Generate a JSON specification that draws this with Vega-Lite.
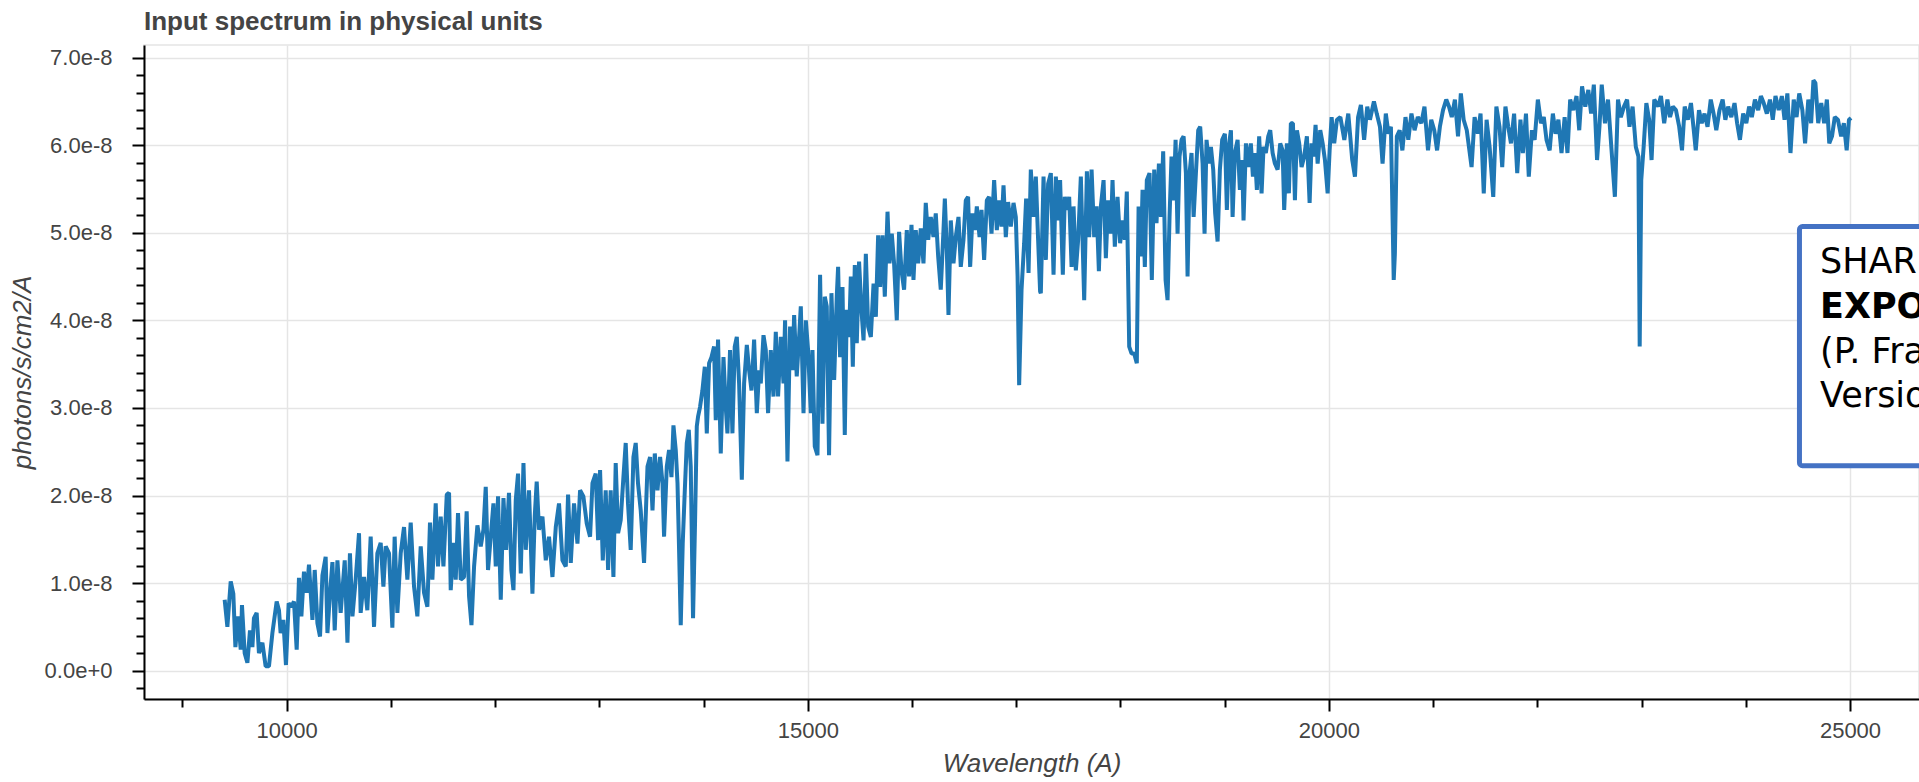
{
"$schema": "https://vega.github.io/schema/vega-lite/v6.json",
"width": 1775,
"height": 654,
"autosize": {"type": "none"},
"padding": {"left": 144, "top": 45, "right": 0, "bottom": 83},
"background": "white",
"title": {"text": "Input spectrum in physical units", "anchor": "start", "frame": "group", "font": "Liberation Sans", "fontSize": 26, "fontWeight": "bold", "color": "#444444", "baseline": "alphabetic", "offset": -11},
"config": {"view": {"stroke": "#e5e5e5", "strokeWidth": 1.5}},
"datasets": {
"spectrum": [
{"w":9405,"f":0.81e-8},{"w":9431,"f":0.50e-8},{"w":9463,"f":1.02e-8},{"w":9488,"f":0.88e-8},{"w":9508,"f":0.27e-8},{"w":9533,"f":0.62e-8},{"w":9559,"f":0.24e-8},{"w":9571,"f":0.75e-8},{"w":9597,"f":0.20e-8},{"w":9623,"f":0.09e-8},{"w":9648,"f":0.46e-8},{"w":9671,"f":0.27e-8},{"w":9686,"f":0.60e-8},{"w":9712,"f":0.66e-8},{"w":9734,"f":0.20e-8},{"w":9767,"f":0.32e-8},{"w":9798,"f":0.05e-8},{"w":9830,"f":0.05e-8},{"w":9863,"f":0.43e-8},{"w":9904,"f":0.79e-8},{"w":9926,"f":0.69e-8},{"w":9942,"f":0.43e-8},{"w":9968,"f":0.58e-8},{"w":9993,"f":0.065e-8},
{"w":10019,"f":0.77e-8},{"w":10045,"f":0.73e-8},{"w":10070,"f":0.79e-8},{"w":10096,"f":0.24e-8},{"w":10118,"f":1.06e-8},{"w":10141,"f":0.62e-8},{"w":10166,"f":1.13e-8},{"w":10192,"f":0.89e-8},{"w":10214,"f":1.21e-8},{"w":10247,"f":0.58e-8},{"w":10269,"f":1.15e-8},{"w":10295,"f":0.54e-8},{"w":10320,"f":0.39e-8},{"w":10343,"f":1.09e-8},{"w":10374,"f":1.30e-8},{"w":10391,"f":0.43e-8},{"w":10416,"f":0.89e-8},{"w":10439,"f":1.24e-8},{"w":10461,"f":0.46e-8},{"w":10487,"f":1.26e-8},{"w":10518,"f":0.66e-8},{"w":10557,"f":1.26e-8},{"w":10583,"f":0.32e-8},{"w":10607,"f":1.34e-8},{"w":10631,"f":0.62e-8},{"w":10662,"f":1.04e-8},{"w":10694,"f":1.57e-8},{"w":10710,"f":0.66e-8},{"w":10742,"f":1.07e-8},{"w":10774,"f":0.69e-8},{"w":10806,"f":1.53e-8},{"w":10838,"f":0.50e-8},{"w":10870,"f":1.34e-8},{"w":10902,"f":1.46e-8},{"w":10928,"f":0.96e-8},{"w":10950,"f":1.42e-8},{"w":10982,"f":1.34e-8},
{"w":11014,"f":0.49e-8},{"w":11036,"f":1.53e-8},{"w":11062,"f":0.66e-8},{"w":11094,"f":1.34e-8},{"w":11126,"f":1.64e-8},{"w":11158,"f":1.04e-8},{"w":11190,"f":1.69e-8},{"w":11222,"f":0.96e-8},{"w":11254,"f":0.62e-8},{"w":11286,"f":1.42e-8},{"w":11318,"f":0.89e-8},{"w":11350,"f":0.73e-8},{"w":11375,"f":1.69e-8},{"w":11398,"f":1.04e-8},{"w":11430,"f":1.91e-8},{"w":11452,"f":1.19e-8},{"w":11478,"f":1.76e-8},{"w":11504,"f":1.19e-8},{"w":11536,"f":2.01e-8},{"w":11558,"f":2.03e-8},{"w":11574,"f":0.92e-8},{"w":11600,"f":1.46e-8},{"w":11622,"f":1.04e-8},{"w":11644,"f":1.80e-8},{"w":11670,"f":1.04e-8},{"w":11702,"f":1.07e-8},{"w":11727,"f":1.82e-8},{"w":11750,"f":0.85e-8},{"w":11773,"f":0.52e-8},{"w":11798,"f":1.19e-8},{"w":11830,"f":1.66e-8},{"w":11862,"f":1.42e-8},
{"w":11888,"f":1.61e-8},{"w":11910,"f":2.10e-8},{"w":11932,"f":1.15e-8},{"w":11958,"f":1.53e-8},{"w":11984,"f":1.91e-8},{"w":12006,"f":1.19e-8},{"w":12028,"f":1.99e-8},{"w":12054,"f":0.81e-8},{"w":12080,"f":1.97e-8},{"w":12105,"f":1.38e-8},{"w":12133,"f":2.03e-8},{"w":12156,"f":1.15e-8},{"w":12176,"f":0.92e-8},{"w":12198,"f":1.95e-8},{"w":12220,"f":2.25e-8},{"w":12246,"f":1.11e-8},{"w":12272,"f":2.37e-8},{"w":12294,"f":1.38e-8},{"w":12325,"f":2.06e-8},{"w":12358,"f":0.88e-8},{"w":12380,"f":1.76e-8},{"w":12399,"f":2.16e-8},{"w":12421,"f":1.61e-8},{"w":12454,"f":1.76e-8},{"w":12486,"f":1.26e-8},{"w":12517,"f":1.53e-8},{"w":12550,"f":1.07e-8},{"w":12582,"f":1.64e-8},{"w":12613,"f":1.91e-8},{"w":12646,"f":1.26e-8},{"w":12678,"f":1.19e-8},{"w":12700,"f":2.01e-8},{"w":12726,"f":1.23e-8},{"w":12757,"f":1.91e-8},{"w":12790,"f":1.45e-8},{"w":12815,"f":2.06e-8},{"w":12847,"f":1.99e-8},{"w":12879,"f":1.68e-8},{"w":12911,"f":1.53e-8},{"w":12934,"f":2.14e-8},{"w":12965,"f":2.25e-8},{"w":12988,"f":1.49e-8},
{"w":13007,"f":2.29e-8},{"w":13033,"f":1.26e-8},{"w":13061,"f":2.06e-8},{"w":13084,"f":1.15e-8},{"w":13109,"f":2.06e-8},{"w":13135,"f":1.07e-8},{"w":13157,"f":2.37e-8},{"w":13180,"f":1.57e-8},{"w":13205,"f":1.72e-8},{"w":13231,"f":2.21e-8},{"w":13253,"f":2.60e-8},{"w":13275,"f":1.91e-8},{"w":13301,"f":1.38e-8},{"w":13327,"f":2.44e-8},{"w":13349,"f":2.60e-8},{"w":13371,"f":2.14e-8},{"w":13397,"f":1.83e-8},{"w":13429,"f":1.23e-8},{"w":13462,"f":2.33e-8},{"w":13487,"f":2.44e-8},{"w":13510,"f":1.83e-8},{"w":13532,"f":2.48e-8},{"w":13558,"f":2.06e-8},{"w":13583,"f":2.44e-8},{"w":13606,"f":2.14e-8},{"w":13621,"f":1.53e-8},{"w":13647,"f":2.33e-8},{"w":13669,"f":2.52e-8},{"w":13692,"f":2.21e-8},{"w":13711,"f":2.80e-8},{"w":13733,"f":2.52e-8},{"w":13750,"f":2.14e-8},{"w":13765,"f":1.38e-8},{"w":13781,"f":0.52e-8},{"w":13800,"f":1.45e-8},{"w":13820,"f":2.06e-8},{"w":13839,"f":2.60e-8},{"w":13858,"f":2.75e-8},{"w":13877,"f":2.33e-8},{"w":13899,"f":0.60e-8},{"w":13918,"f":1.68e-8},{"w":13935,"f":2.79e-8},{"w":13947,"f":2.90e-8},{"w":13966,"f":3.01e-8},{"w":13989,"f":3.20e-8},
{"w":14012,"f":3.47e-8},{"w":14031,"f":2.71e-8},{"w":14053,"f":3.51e-8},{"w":14076,"f":3.58e-8},{"w":14101,"f":3.70e-8},{"w":14117,"f":2.86e-8},{"w":14139,"f":3.78e-8},{"w":14165,"f":2.48e-8},{"w":14191,"f":3.58e-8},{"w":14213,"f":3.01e-8},{"w":14229,"f":2.71e-8},{"w":14254,"f":3.66e-8},{"w":14277,"f":2.71e-8},{"w":14299,"f":3.70e-8},{"w":14319,"f":3.81e-8},{"w":14341,"f":3.28e-8},{"w":14367,"f":2.18e-8},{"w":14389,"f":3.28e-8},{"w":14415,"f":3.72e-8},{"w":14437,"f":3.43e-8},{"w":14460,"f":3.20e-8},{"w":14485,"f":3.78e-8},{"w":14511,"f":2.94e-8},{"w":14533,"f":3.43e-8},
{"w":14549,"f":3.28e-8},{"w":14575,"f":3.83e-8},{"w":14597,"f":3.66e-8},{"w":14619,"f":2.94e-8},{"w":14645,"f":3.66e-8},{"w":14671,"f":3.13e-8},{"w":14693,"f":3.87e-8},{"w":14715,"f":3.13e-8},{"w":14741,"f":3.81e-8},{"w":14767,"f":3.28e-8},{"w":14782,"f":4.00e-8},{"w":14805,"f":2.39e-8},{"w":14830,"f":3.93e-8},{"w":14853,"f":3.43e-8},{"w":14869,"f":4.06e-8},{"w":14894,"f":3.36e-8},{"w":14917,"f":3.81e-8},{"w":14933,"f":4.16e-8},{"w":14959,"f":2.94e-8},{"w":14981,"f":4.00e-8},
{"w":15003,"f":3.66e-8},{"w":15029,"f":2.94e-8},{"w":15045,"f":3.66e-8},{"w":15067,"f":2.56e-8},{"w":15093,"f":2.46e-8},{"w":15118,"f":4.52e-8},{"w":15141,"f":2.82e-8},{"w":15163,"f":4.27e-8},{"w":15182,"f":4.16e-8},{"w":15204,"f":2.46e-8},{"w":15227,"f":4.31e-8},{"w":15253,"f":3.32e-8},{"w":15278,"f":4.27e-8},{"w":15291,"f":4.61e-8},{"w":15310,"f":3.58e-8},{"w":15333,"f":4.38e-8},{"w":15355,"f":2.69e-8},{"w":15374,"f":4.12e-8},{"w":15396,"f":3.81e-8},{"w":15413,"f":4.50e-8},{"w":15432,"f":3.47e-8},{"w":15451,"f":4.63e-8},{"w":15470,"f":3.74e-8},{"w":15492,"f":4.67e-8},{"w":15515,"f":4.12e-8},{"w":15535,"f":3.77e-8},{"w":15557,"f":4.76e-8},{"w":15579,"f":3.93e-8},{"w":15605,"f":3.81e-8},{"w":15631,"f":4.42e-8},{"w":15653,"f":4.04e-8},{"w":15675,"f":4.97e-8},{"w":15694,"f":4.38e-8},{"w":15717,"f":4.97e-8},{"w":15739,"f":4.27e-8},{"w":15765,"f":5.24e-8},{"w":15784,"f":4.65e-8},{"w":15806,"f":4.99e-8},{"w":15828,"f":4.65e-8},{"w":15854,"f":4.00e-8},{"w":15876,"f":5.01e-8},{"w":15899,"f":4.57e-8},{"w":15924,"f":4.35e-8},{"w":15950,"f":5.03e-8},{"w":15972,"f":4.50e-8},{"w":15995,"f":5.09e-8},
{"w":16014,"f":4.46e-8},{"w":16036,"f":5.03e-8},{"w":16059,"f":4.65e-8},{"w":16084,"f":5.05e-8},{"w":16110,"f":4.65e-8},{"w":16132,"f":5.34e-8},{"w":16155,"f":4.92e-8},{"w":16180,"f":5.18e-8},{"w":16206,"f":4.95e-8},{"w":16228,"f":5.22e-8},{"w":16251,"f":4.73e-8},{"w":16276,"f":4.35e-8},{"w":16302,"f":5.03e-8},{"w":16315,"f":5.39e-8},{"w":16334,"f":4.80e-8},{"w":16350,"f":4.06e-8},{"w":16372,"f":5.14e-8},{"w":16398,"f":4.65e-8},{"w":16420,"f":4.95e-8},{"w":16446,"f":5.18e-8},{"w":16468,"f":4.61e-8},{"w":16494,"f":4.92e-8},{"w":16516,"f":5.37e-8},{"w":16538,"f":5.41e-8},{"w":16558,"f":4.61e-8},{"w":16581,"f":5.22e-8},{"w":16603,"f":5.03e-8},{"w":16622,"f":5.30e-8},{"w":16648,"f":4.95e-8},{"w":16667,"f":5.26e-8},{"w":16692,"f":4.69e-8},{"w":16718,"f":5.37e-8},{"w":16740,"f":5.41e-8},{"w":16763,"f":4.99e-8},{"w":16788,"f":5.60e-8},{"w":16814,"f":5.03e-8},{"w":16836,"f":5.37e-8},{"w":16859,"f":5.07e-8},{"w":16878,"f":5.54e-8},{"w":16900,"f":4.95e-8},{"w":16922,"f":5.35e-8},{"w":16948,"f":5.07e-8},{"w":16974,"f":5.34e-8},{"w":16996,"f":5.18e-8},
{"w":17013,"f":4.50e-8},{"w":17028,"f":3.26e-8},{"w":17051,"f":4.35e-8},{"w":17076,"f":4.88e-8},{"w":17095,"f":5.39e-8},{"w":17118,"f":4.54e-8},{"w":17140,"f":5.72e-8},{"w":17166,"f":5.18e-8},{"w":17188,"f":5.64e-8},{"w":17210,"f":4.92e-8},{"w":17229,"f":4.33e-8},{"w":17236,"f":4.31e-8},{"w":17262,"f":5.64e-8},{"w":17284,"f":4.69e-8},{"w":17306,"f":5.56e-8},{"w":17332,"f":5.68e-8},{"w":17358,"f":4.52e-8},{"w":17380,"f":5.64e-8},{"w":17402,"f":5.14e-8},{"w":17421,"f":5.60e-8},{"w":17447,"f":4.52e-8},{"w":17466,"f":5.41e-8},{"w":17492,"f":5.26e-8},{"w":17508,"f":5.41e-8},{"w":17531,"f":4.61e-8},{"w":17550,"f":5.30e-8},{"w":17572,"f":4.57e-8},{"w":17594,"f":4.92e-8},{"w":17620,"f":5.64e-8},{"w":17652,"f":4.23e-8},{"w":17678,"f":5.70e-8},{"w":17700,"f":4.95e-8},{"w":17723,"f":5.72e-8},{"w":17748,"f":4.95e-8},{"w":17771,"f":5.30e-8},{"w":17793,"f":4.56e-8},{"w":17812,"f":5.30e-8},{"w":17838,"f":5.60e-8},{"w":17860,"f":4.71e-8},{"w":17882,"f":5.37e-8},{"w":17908,"f":4.99e-8},{"w":17924,"f":5.60e-8},{"w":17946,"f":4.84e-8},{"w":17972,"f":5.41e-8},{"w":17997,"f":4.88e-8},
{"w":18020,"f":5.14e-8},{"w":18042,"f":4.92e-8},{"w":18061,"f":5.47e-8},{"w":18084,"f":3.70e-8},{"w":18107,"f":3.62e-8},{"w":18132,"f":3.62e-8},{"w":18157,"f":3.51e-8},{"w":18174,"f":5.30e-8},{"w":18196,"f":4.73e-8},{"w":18212,"f":5.49e-8},{"w":18234,"f":4.61e-8},{"w":18253,"f":5.60e-8},{"w":18279,"f":5.68e-8},{"w":18301,"f":4.46e-8},{"w":18324,"f":5.72e-8},{"w":18346,"f":5.11e-8},{"w":18369,"f":5.79e-8},{"w":18388,"f":5.18e-8},{"w":18410,"f":5.93e-8},{"w":18433,"f":4.46e-8},{"w":18452,"f":4.23e-8},{"w":18471,"f":5.18e-8},{"w":18490,"f":5.87e-8},{"w":18510,"f":5.37e-8},{"w":18529,"f":6.06e-8},{"w":18548,"f":4.99e-8},{"w":18567,"f":5.87e-8},{"w":18586,"f":6.06e-8},{"w":18606,"f":6.10e-8},{"w":18628,"f":5.68e-8},{"w":18644,"f":4.50e-8},{"w":18663,"f":5.68e-8},{"w":18682,"f":5.91e-8},{"w":18702,"f":5.18e-8},{"w":18724,"f":5.68e-8},{"w":18746,"f":6.17e-8},{"w":18765,"f":6.21e-8},{"w":18788,"f":5.79e-8},{"w":18807,"f":4.99e-8},{"w":18826,"f":6.06e-8},{"w":18848,"f":5.79e-8},{"w":18868,"f":5.98e-8},{"w":18890,"f":5.72e-8},{"w":18909,"f":5.22e-8},{"w":18932,"f":4.90e-8},{"w":18954,"f":5.72e-8},{"w":18976,"f":6.06e-8},
{"w":19002,"f":6.13e-8},{"w":19021,"f":5.26e-8},{"w":19043,"f":6.02e-8},{"w":19060,"f":6.17e-8},{"w":19076,"f":5.18e-8},{"w":19098,"f":5.91e-8},{"w":19124,"f":6.06e-8},{"w":19146,"f":5.49e-8},{"w":19168,"f":5.83e-8},{"w":19181,"f":5.14e-8},{"w":19204,"f":6.02e-8},{"w":19226,"f":5.75e-8},{"w":19251,"f":6.02e-8},{"w":19271,"f":5.64e-8},{"w":19290,"f":5.91e-8},{"w":19309,"f":5.49e-8},{"w":19331,"f":6.10e-8},{"w":19354,"f":5.45e-8},{"w":19373,"f":5.98e-8},{"w":19395,"f":5.91e-8},{"w":19418,"f":6.10e-8},{"w":19437,"f":6.17e-8},{"w":19460,"f":5.91e-8},{"w":19482,"f":5.79e-8},{"w":19508,"f":5.72e-8},{"w":19533,"f":6.02e-8},{"w":19556,"f":5.94e-8},{"w":19571,"f":5.26e-8},{"w":19597,"f":6.02e-8},{"w":19616,"f":5.45e-8},{"w":19635,"f":6.25e-8},{"w":19655,"f":6.25e-8},{"w":19674,"f":5.37e-8},{"w":19693,"f":6.17e-8},{"w":19715,"f":6.02e-8},{"w":19738,"f":5.75e-8},{"w":19763,"f":5.87e-8},{"w":19789,"f":6.10e-8},{"w":19815,"f":5.34e-8},{"w":19834,"f":6.02e-8},{"w":19853,"f":5.87e-8},{"w":19872,"f":6.23e-8},{"w":19892,"f":5.79e-8},{"w":19917,"f":6.17e-8},{"w":19940,"f":6.02e-8},{"w":19962,"f":5.83e-8},{"w":19988,"f":5.45e-8},
{"w":20007,"f":5.94e-8},{"w":20026,"f":6.32e-8},{"w":20051,"f":6.02e-8},{"w":20077,"f":6.29e-8},{"w":20110,"f":6.32e-8},{"w":20148,"f":6.06e-8},{"w":20186,"f":6.36e-8},{"w":20224,"f":5.83e-8},{"w":20250,"f":5.64e-8},{"w":20280,"f":6.32e-8},{"w":20307,"f":6.46e-8},{"w":20338,"f":6.06e-8},{"w":20368,"f":6.44e-8},{"w":20394,"f":6.29e-8},{"w":20432,"f":6.50e-8},{"w":20459,"f":6.36e-8},{"w":20490,"f":6.21e-8},{"w":20515,"f":5.79e-8},{"w":20546,"f":6.36e-8},{"w":20572,"f":6.13e-8},{"w":20595,"f":6.21e-8},{"w":20622,"f":4.46e-8},{"w":20633,"f":4.76e-8},{"w":20652,"f":6.10e-8},{"w":20679,"f":6.17e-8},{"w":20705,"f":5.94e-8},{"w":20735,"f":6.32e-8},{"w":20762,"f":6.06e-8},{"w":20792,"f":6.36e-8},{"w":20822,"f":6.17e-8},{"w":20853,"f":6.32e-8},{"w":20887,"f":6.25e-8},{"w":20917,"f":6.44e-8},{"w":20951,"f":5.94e-8},{"w":20982,"f":6.29e-8},
{"w":21011,"f":6.17e-8},{"w":21038,"f":5.94e-8},{"w":21065,"f":6.21e-8},{"w":21095,"f":6.40e-8},{"w":21126,"f":6.52e-8},{"w":21152,"f":6.44e-8},{"w":21179,"f":6.32e-8},{"w":21209,"f":6.52e-8},{"w":21239,"f":6.10e-8},{"w":21266,"f":6.59e-8},{"w":21293,"f":6.29e-8},{"w":21323,"f":6.17e-8},{"w":21369,"f":5.75e-8},{"w":21398,"f":6.32e-8},{"w":21429,"f":6.13e-8},{"w":21455,"f":6.36e-8},{"w":21486,"f":5.45e-8},{"w":21513,"f":6.29e-8},{"w":21542,"f":5.98e-8},{"w":21577,"f":5.41e-8},{"w":21607,"f":6.44e-8},{"w":21637,"f":6.21e-8},{"w":21663,"f":5.75e-8},{"w":21694,"f":6.44e-8},{"w":21721,"f":6.21e-8},{"w":21747,"f":6.02e-8},{"w":21777,"f":6.36e-8},{"w":21807,"f":5.68e-8},{"w":21838,"f":6.29e-8},{"w":21861,"f":5.91e-8},{"w":21891,"f":6.36e-8},{"w":21918,"f":5.64e-8},{"w":21948,"f":6.17e-8},{"w":21974,"f":6.06e-8},
{"w":22005,"f":6.52e-8},{"w":22035,"f":6.25e-8},{"w":22062,"f":6.32e-8},{"w":22088,"f":6.06e-8},{"w":22118,"f":5.94e-8},{"w":22149,"f":6.36e-8},{"w":22175,"f":6.13e-8},{"w":22202,"f":6.29e-8},{"w":22232,"f":5.91e-8},{"w":22262,"f":6.32e-8},{"w":22289,"f":5.91e-8},{"w":22315,"f":6.52e-8},{"w":22345,"f":6.40e-8},{"w":22376,"f":6.56e-8},{"w":22402,"f":6.17e-8},{"w":22429,"f":6.67e-8},{"w":22460,"f":6.44e-8},{"w":22489,"f":6.63e-8},{"w":22516,"f":6.36e-8},{"w":22542,"f":6.69e-8},{"w":22573,"f":5.83e-8},{"w":22596,"f":6.21e-8},{"w":22618,"f":6.69e-8},{"w":22649,"f":6.25e-8},{"w":22678,"f":6.52e-8},{"w":22705,"f":6.06e-8},{"w":22744,"f":5.41e-8},{"w":22774,"f":6.52e-8},{"w":22801,"f":6.32e-8},{"w":22831,"f":6.44e-8},{"w":22861,"f":6.52e-8},{"w":22884,"f":6.21e-8},{"w":22914,"f":6.44e-8},{"w":22945,"f":5.98e-8},{"w":22970,"f":5.87e-8},{"w":22982,"f":3.70e-8},{"w":22997,"f":5.60e-8},
{"w":23020,"f":5.98e-8},{"w":23046,"f":6.48e-8},{"w":23073,"f":6.29e-8},{"w":23096,"f":5.83e-8},{"w":23122,"f":6.52e-8},{"w":23160,"f":6.44e-8},{"w":23186,"f":6.56e-8},{"w":23217,"f":6.25e-8},{"w":23248,"f":6.52e-8},{"w":23273,"f":6.32e-8},{"w":23300,"f":6.44e-8},{"w":23330,"f":6.40e-8},{"w":23361,"f":6.21e-8},{"w":23388,"f":5.94e-8},{"w":23414,"f":6.44e-8},{"w":23444,"f":6.29e-8},{"w":23474,"f":6.48e-8},{"w":23501,"f":6.17e-8},{"w":23520,"f":5.94e-8},{"w":23551,"f":6.40e-8},{"w":23577,"f":6.25e-8},{"w":23604,"f":6.36e-8},{"w":23633,"f":6.21e-8},{"w":23664,"f":6.52e-8},{"w":23691,"f":6.36e-8},{"w":23717,"f":6.17e-8},{"w":23748,"f":6.40e-8},{"w":23778,"f":6.52e-8},{"w":23804,"f":6.29e-8},{"w":23831,"f":6.44e-8},{"w":23861,"f":6.32e-8},{"w":23892,"f":6.48e-8},{"w":23917,"f":6.25e-8},{"w":23944,"f":6.06e-8},{"w":23975,"f":6.36e-8},
{"w":24005,"f":6.25e-8},{"w":24032,"f":6.44e-8},{"w":24058,"f":6.32e-8},{"w":24088,"f":6.52e-8},{"w":24119,"f":6.40e-8},{"w":24145,"f":6.56e-8},{"w":24172,"f":6.48e-8},{"w":24202,"f":6.36e-8},{"w":24232,"f":6.52e-8},{"w":24259,"f":6.29e-8},{"w":24285,"f":6.56e-8},{"w":24316,"f":6.40e-8},{"w":24346,"f":6.56e-8},{"w":24372,"f":6.29e-8},{"w":24399,"f":6.59e-8},{"w":24429,"f":5.91e-8},{"w":24460,"f":6.52e-8},{"w":24487,"f":6.32e-8},{"w":24513,"f":6.59e-8},{"w":24543,"f":6.40e-8},{"w":24569,"f":6.02e-8},{"w":24600,"f":6.52e-8},{"w":24627,"f":6.25e-8},{"w":24649,"f":6.74e-8},{"w":24668,"f":6.71e-8},{"w":24695,"f":6.25e-8},{"w":24724,"f":6.48e-8},{"w":24752,"f":6.25e-8},{"w":24778,"f":6.52e-8},{"w":24801,"f":6.02e-8},{"w":24827,"f":6.10e-8},{"w":24854,"f":6.32e-8},{"w":24884,"f":6.29e-8},{"w":24915,"f":6.10e-8},{"w":24941,"f":6.25e-8},{"w":24968,"f":5.94e-8},{"w":24990,"f":6.29e-8},{"w":25010,"f":6.31e-8}
],
"box": [{"w":24515,"w2":27500,"f":5.07e-8,"f2":2.34e-8}],
"note": [
{"w":24712,"f":4.543e-8,"label":"SHARK-NIR","bold":0},
{"w":24712,"f":4.026e-8,"label":"EXPOSURE TIME CALCULATOR","bold":1},
{"w":24712,"f":3.513e-8,"label":"(P. Franzetti et al.)","bold":0},
{"w":24712,"f":3.010e-8,"label":"Version 1.0","bold":0}
]
},
"encoding": {
"x": {"field": "w", "type": "quantitative", "title": "Wavelength (A)",
 "scale": {"domain": [8631, 25662], "nice": false, "zero": false},
 "axis": {
  "values": [9000,10000,11000,12000,13000,14000,15000,16000,17000,18000,19000,20000,21000,22000,23000,24000,25000],
  "format": "d",
  "labelExpr": "datum.value % 5000 === 0 ? datum.label : ''",
  "tickSize": {"condition": {"test": "datum.value % 5000 === 0", "value": 12}, "value": 8},
  "tickColor": "#000000", "tickWidth": 2,
  "domainColor": "#000000", "domainWidth": 2,
  "grid": true, "gridColor": "#e5e5e5", "gridWidth": 1.5,
  "gridOpacity": {"condition": {"test": "datum.value % 5000 === 0", "value": 1}, "value": 0},
  "labelFont": "Liberation Sans", "labelFontSize": 22, "labelColor": "#444444", "labelPadding": 9,
  "labelOverlap": false, "labelFlush": false,
  "titleFont": "Liberation Sans", "titleFontSize": 26, "titleFontStyle": "italic", "titleFontWeight": "normal", "titleColor": "#444444", "titlePadding": 9
 }
},
"y": {"field": "f", "type": "quantitative", "title": "photons/s/cm2/A",
 "scale": {"domain": [-3.23e-9, 7.143e-8], "nice": false, "zero": false},
 "axis": {
  "values": [-2e-9,0,2e-9,4e-9,6e-9,8e-9,1e-8,1.2e-8,1.4e-8,1.6e-8,1.8e-8,2e-8,2.2e-8,2.4e-8,2.6e-8,2.8e-8,3e-8,3.2e-8,3.4e-8,3.6e-8,3.8e-8,4e-8,4.2e-8,4.4e-8,4.6e-8,4.8e-8,5e-8,5.2e-8,5.4e-8,5.6e-8,5.8e-8,6e-8,6.2e-8,6.4e-8,6.6e-8,6.8e-8,7e-8],
  "format": ".1e",
  "labelExpr": "abs(datum.value*1e8 - round(datum.value*1e8)) < 0.01 ? datum.label : ''",
  "tickSize": {"condition": {"test": "abs(datum.value*1e8 - round(datum.value*1e8)) < 0.01", "value": 12}, "value": 8},
  "tickColor": "#000000", "tickWidth": 2,
  "domainColor": "#000000", "domainWidth": 2,
  "grid": true, "gridColor": "#e5e5e5", "gridWidth": 1.5,
  "gridOpacity": {"condition": {"test": "abs(datum.value*1e8 - round(datum.value*1e8)) < 0.01", "value": 1}, "value": 0},
  "labelFont": "Liberation Sans", "labelFontSize": 22, "labelColor": "#444444", "labelPadding": 20,
  "labelOverlap": false, "labelFlush": false,
  "titleFont": "Liberation Sans", "titleFontSize": 26, "titleFontStyle": "italic", "titleFontWeight": "normal", "titleColor": "#444444", "titlePadding": 9
 }
}
},
"layer": [
{"data": {"name": "spectrum"}, "mark": {"type": "line", "color": "#1f77b4", "strokeWidth": 4, "strokeJoin": "bevel"}},
{"data": {"name": "box"}, "mark": {"type": "rect", "fill": "white", "stroke": "#4472C4", "strokeWidth": 5, "cornerRadius": 3},
 "encoding": {"x2": {"field": "w2"}, "y2": {"field": "f2"}}},
{"data": {"name": "note"}, "transform": [{"filter": "datum.bold == 0"}],
 "mark": {"type": "text", "align": "left", "baseline": "alphabetic", "font": "DejaVu Sans", "fontSize": 35, "color": "#000000"},
 "encoding": {"text": {"field": "label"}}},
{"data": {"name": "note"}, "transform": [{"filter": "datum.bold == 1"}],
 "mark": {"type": "text", "align": "left", "baseline": "alphabetic", "font": "DejaVu Sans", "fontSize": 35, "fontWeight": "bold", "color": "#000000"},
 "encoding": {"text": {"field": "label"}}}
]
}
